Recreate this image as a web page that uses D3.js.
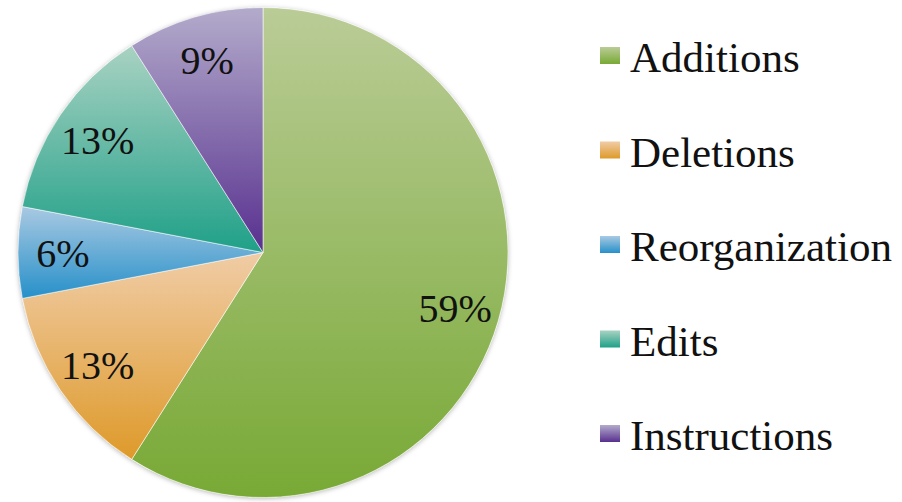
<!DOCTYPE html>
<html>
<head>
<meta charset="utf-8">
<script src="https://cdn.jsdelivr.net/npm/d3@7/dist/d3.min.js"></script>
<style>
  html, body { margin: 0; padding: 0; background: #fff; }
  svg { display: block; }
</style>
</head>
<body>
<svg id="chart" width="902" height="502" style='font-family: "Liberation Serif", "Times New Roman", Times, serif'></svg>
<script>
const categories = ["Additions", "Deletions", "Reorganization", "Edits", "Instructions"];
const values = [59, 13, 6, 13, 9];
const labels = ["59%", "13%", "6%", "13%", "9%"];
const topColors = ["#bacc97", "#f0cca6", "#a9c9e2", "#a9d2c2", "#b3abcb"];
const bottomColors = ["#78a935", "#de9a2a", "#2690c9", "#1fa088", "#58308f"];

const FONT = '"Liberation Serif", "Times New Roman", Times, serif';
const svg = d3.select("#chart");
const cx = 263, cy = 252.5, R = 245;
const labelR = 200;

const defs = svg.append("defs");
categories.forEach((c, i) => {
  const g = defs.append("linearGradient")
    .attr("id", "grad" + i)
    .attr("x1", 0).attr("y1", 0).attr("x2", 0).attr("y2", 1);
  g.append("stop").attr("offset", "0%").attr("stop-color", topColors[i]);
  g.append("stop").attr("offset", "100%").attr("stop-color", bottomColors[i]);
});
const f = defs.append("filter").attr("id", "shadow")
  .attr("x", "-10%").attr("y", "-10%").attr("width", "120%").attr("height", "120%");
f.append("feDropShadow").attr("dx", 0).attr("dy", 1).attr("stdDeviation", 2.5)
  .attr("flood-color", "#000").attr("flood-opacity", 0.3);

const data = categories.map((c, i) => ({ name: c, value: values[i], label: labels[i], i }));
const pie = d3.pie().value(d => d.value).sort(null);
const arcs = pie(data);
const arc = d3.arc().innerRadius(0).outerRadius(R);
const labelArc = d3.arc().innerRadius(labelR).outerRadius(labelR);

const g = svg.append("g").attr("transform", `translate(${cx},${cy})`);
g.append("circle").attr("r", R).attr("fill", "#fff").attr("filter", "url(#shadow)");
g.selectAll("path.slice").data(arcs).enter().append("path")
  .attr("class", "slice")
  .attr("d", arc)
  .attr("fill", d => `url(#grad${d.data.i})`)
  .attr("stroke", "rgba(255,255,255,0.55)")
  .attr("stroke-width", 1);

g.selectAll("text.lbl").data(arcs).enter().append("text")
  .attr("class", "lbl")
  .attr("transform", d => {
    const [x, y] = labelArc.centroid(d);
    return `translate(${x},${y})`;
  })
  .attr("text-anchor", "middle")
  .attr("dy", "0.35em")
  .attr("font-family", FONT)
  .style("font-family", FONT)
  .style("font-size", "40px")
  .style("fill", "#111")
  .text(d => d.data.label);

// Legend
const ly = d3.scalePoint().domain(categories).range([72, 450]);
const items = svg.append("g").selectAll("g.item").data(data).enter().append("g")
  .attr("class", "item")
  .attr("transform", d => `translate(600,${ly(d.name)})`);
items.append("rect")
  .attr("x", 0).attr("y", -25).attr("width", 20).attr("height", 17)
  .attr("fill", d => `url(#grad${d.i})`);
items.append("text")
  .attr("x", 30).attr("y", 0)
  .attr("font-family", FONT)
  .style("font-family", FONT)
  .style("font-size", "43px")
  .style("fill", "#111")
  .text(d => d.name);
</script>
</body>
</html>
